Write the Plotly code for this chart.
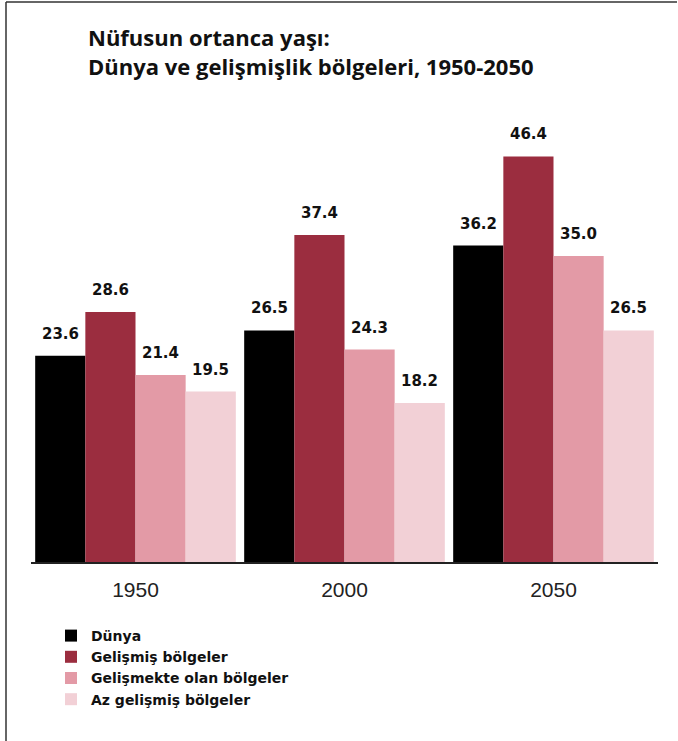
import plotly.graph_objects as go

years = ["1950", "2000", "2050"]
series_names = ["Dünya", "Gelişmiş bölgeler", "Gelişmekte olan bölgeler", "Az gelişmiş bölgeler"]
dunya = [23.6, 26.5, 36.2]
gelismis = [28.6, 37.4, 46.4]
gelismekte = [21.4, 24.3, 35.0]
az_gelismis = [19.5, 18.2, 26.5]
colors = ["#000000", "#9B2D3F", "#E39AA6", "#F2D0D6"]
title_text = "Nüfusun ortanca yaşı:<br>Dünya ve gelişmişlik bölgeleri, 1950-2050"

series = [dunya, gelismis, gelismekte, az_gelismis]

W, H = 678, 741
ml, mr, mt, mb = 31, 20, 125, 179
pw = W - ml - mr
ph = H - mt - mb

fig = go.Figure()
for name, vals, col in zip(series_names, series, colors):
    fig.add_trace(go.Bar(
        x=years, y=vals, name=name,
        marker=dict(color=col, line=dict(width=0)),
        hoverinfo="skip",
    ))

bargap = 0.04
cat_px = pw / 3
bar_px = cat_px * (1 - bargap) / 4
annotations = []
for i, vals in enumerate(series):
    for j, v in enumerate(vals):
        annotations.append(dict(
            x=j, y=v, xref="x", yref="y",
            text="<b>%.1f</b>" % v, showarrow=False,
            xshift=(i - 1.5) * bar_px, yshift=22,
            font=dict(family="DejaVu Sans", size=15, color="#111111"),
        ))

def px_x(p):
    return (p - ml) / pw

def px_y(p):
    return (H - mb - p) / ph

shapes = [
    dict(type="line", xref="paper", yref="paper",
         x0=px_x(6), x1=px_x(6), y0=px_y(2), y1=px_y(741),
         line=dict(color="#333333", width=1.5)),
    dict(type="line", xref="paper", yref="paper",
         x0=px_x(6), x1=px_x(677), y0=px_y(2), y1=px_y(2),
         line=dict(color="#333333", width=1.5)),
]

fig.update_layout(
    width=W, height=H,
    margin=dict(l=ml, r=mr, t=mt, b=mb, autoexpand=False),
    paper_bgcolor="white", plot_bgcolor="white",
    barmode="group", bargap=bargap, bargroupgap=0,
    title=dict(
        text="<b>" + title_text + "</b>",
        x=px_x(88), xanchor="left", xref="paper",
        y=1 - 46 / H, yanchor="top", yref="container",
        font=dict(family="Open Sans", size=22, color="#111111"),
    ),
    xaxis=dict(
        type="category", range=[-0.5, 2.5], autorange=False,
        showline=True, linecolor="#222222", linewidth=1.5,
        ticks="", showgrid=False,
        tickfont=dict(family="Liberation Sans", size=21, color="#222222"),
        ticklabelstandoff=8,
    ),
    yaxis=dict(range=[0, 50], autorange=False, visible=False, showgrid=False),
    legend=dict(
        x=px_x(51), y=px_y(620), xanchor="left", yanchor="top",
        orientation="v", traceorder="normal",
        font=dict(family="DejaVu Sans", size=14, color="#111111", weight="bold"),
        tracegroupgap=0, itemsizing="constant",
        bgcolor="rgba(0,0,0,0)",
    ),
    annotations=annotations,
    shapes=shapes,
    showlegend=True,
)

fig.write_html("out.html", config={"displayModeBar": False},
               post_script="document.body.style.margin='0';")
